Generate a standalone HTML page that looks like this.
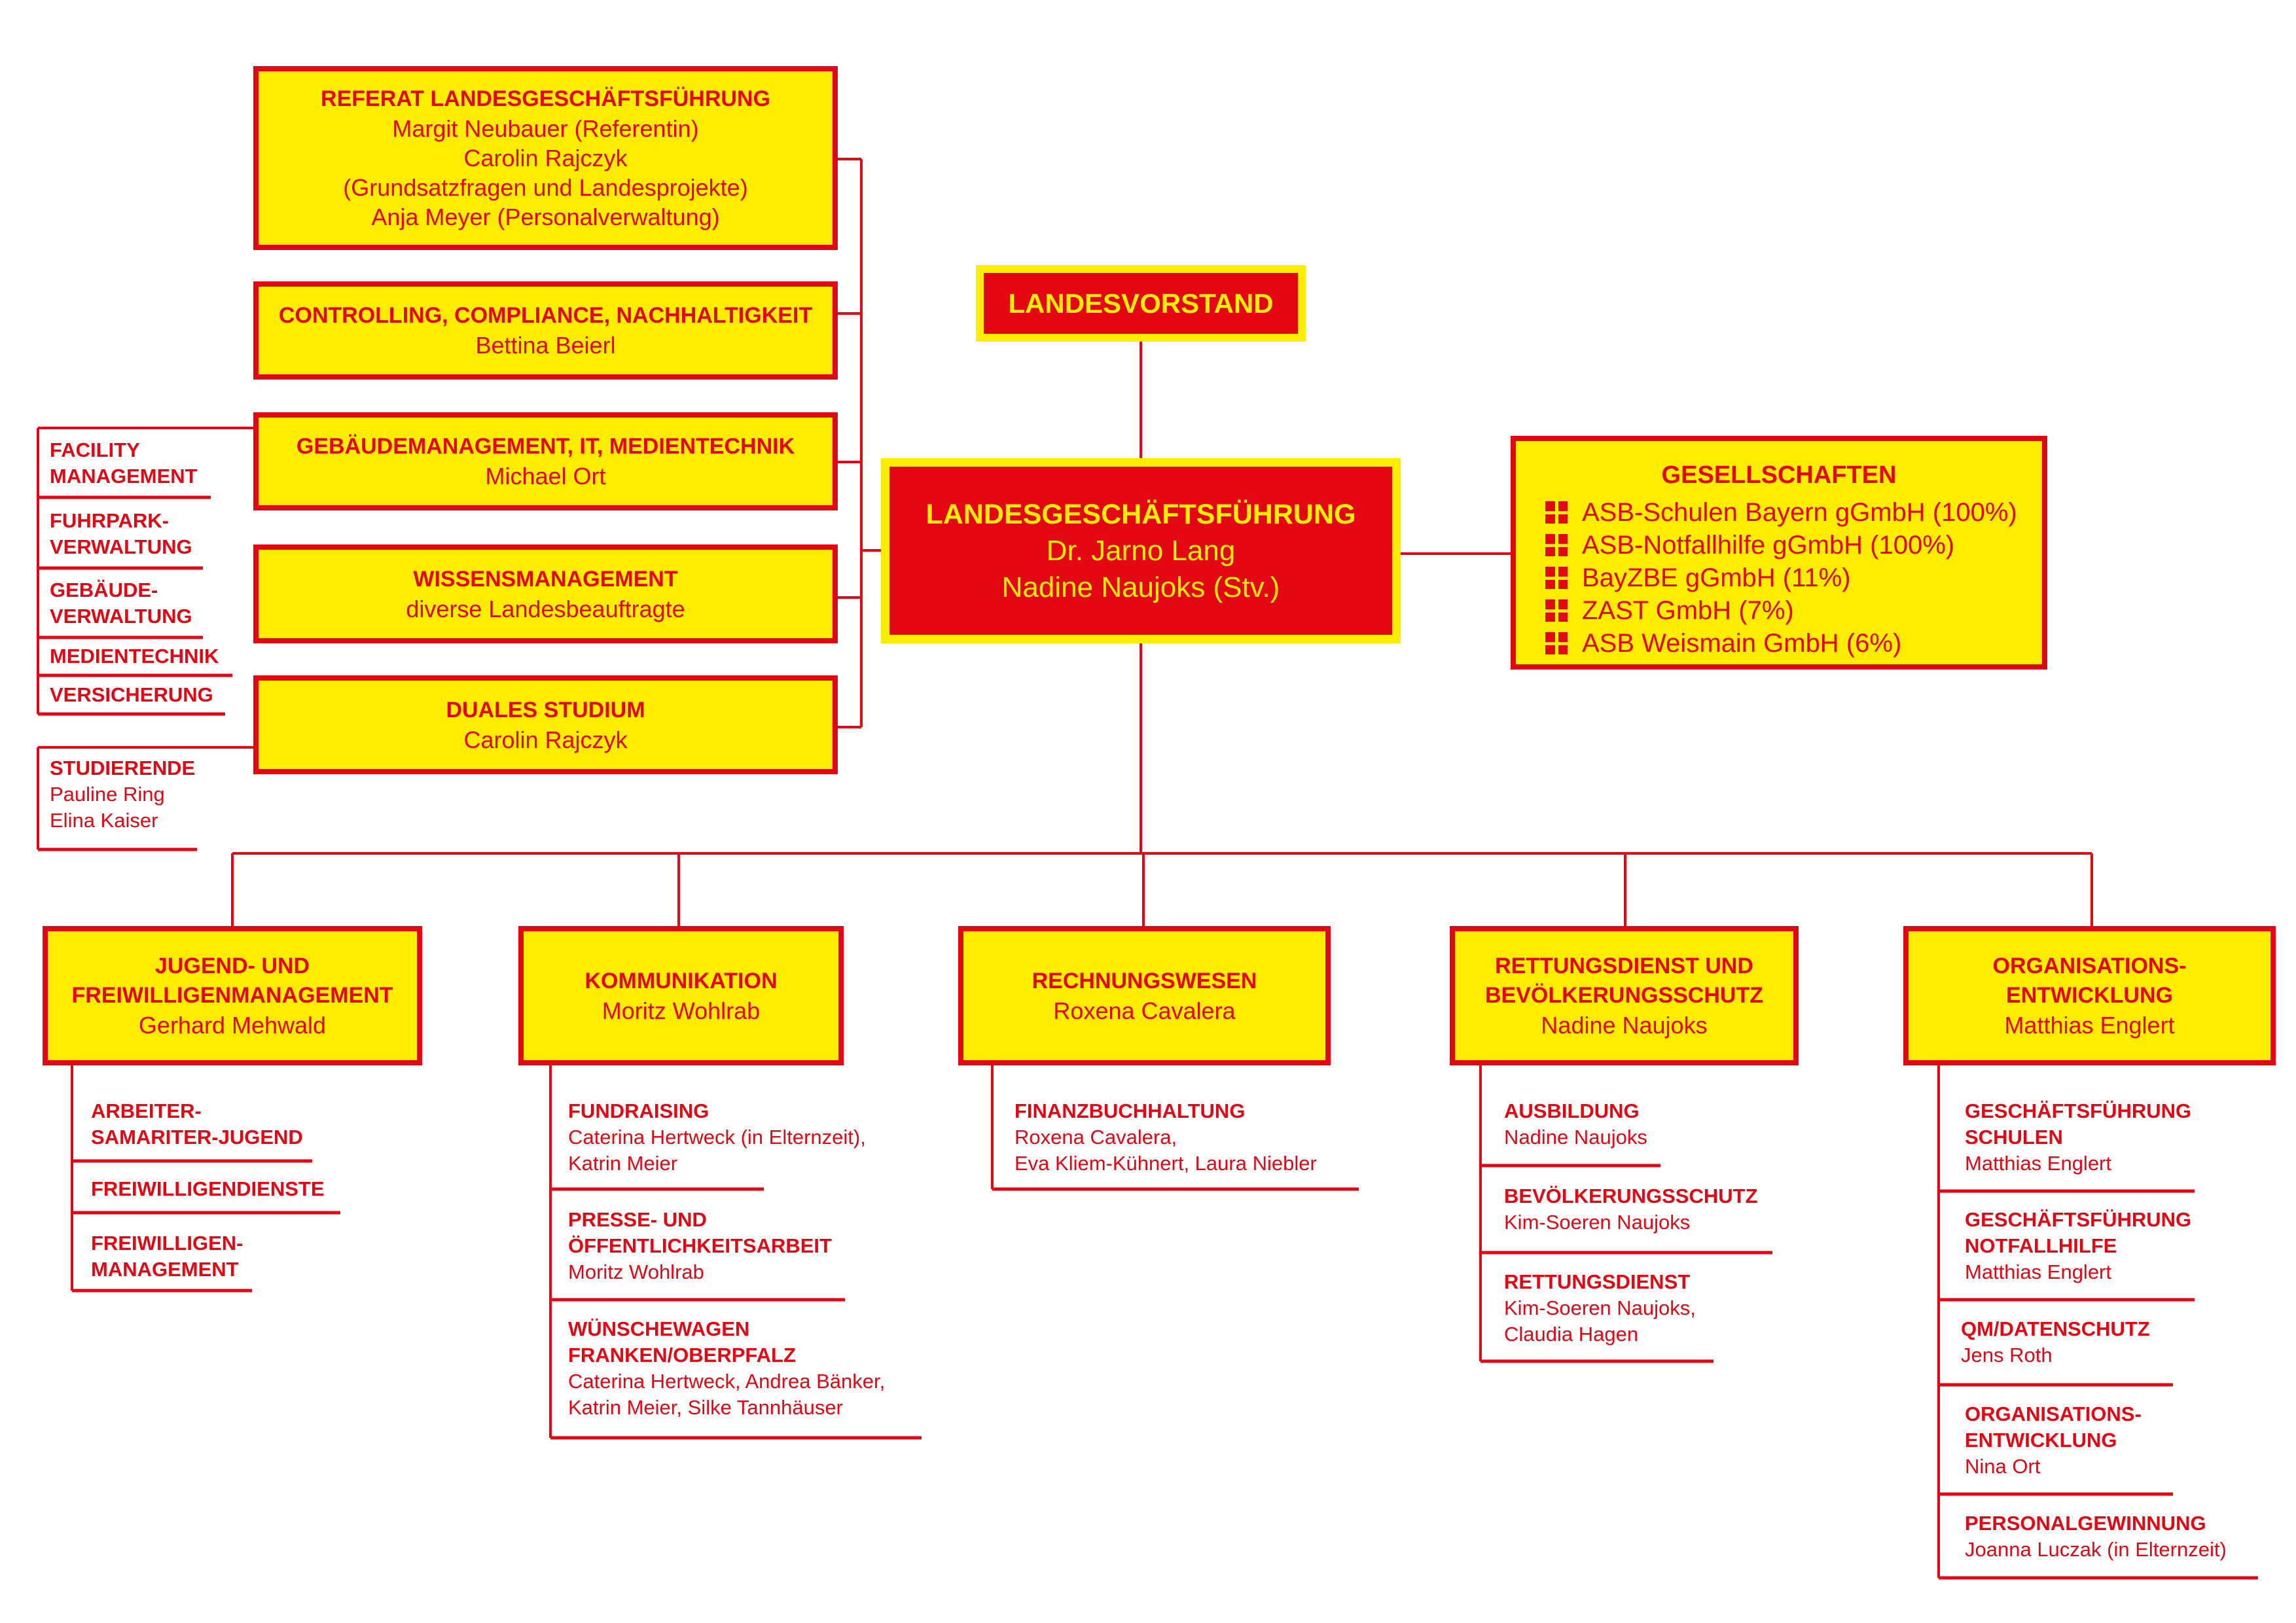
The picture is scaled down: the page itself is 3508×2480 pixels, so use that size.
<!DOCTYPE html>
<html><head><meta charset="utf-8">
<style>
*{margin:0;padding:0;box-sizing:border-box}
body{width:3508px;height:2480px;background:#fff;position:relative;overflow:hidden;font-family:"Liberation Sans",sans-serif;color:#e30613}
.b{position:absolute;border:8px solid #e30613;background:#ffed00;display:flex;flex-direction:column;justify-content:center;align-items:center;text-align:center;font-size:36px;line-height:45px;white-space:nowrap}
.b b{font-size:34px}
.s{position:absolute;font-size:31px;line-height:40px;white-space:nowrap}
.s b{font-size:31px}
svg{position:absolute;left:0;top:0}
.ic{display:inline-block;width:34px;height:34px;vertical-align:-4px;margin-right:22px;background:
linear-gradient(#ffed00,#ffed00) 15px 0/5px 34px no-repeat,
linear-gradient(#ffed00,#ffed00) 0 15px/34px 5px no-repeat,#e30613}
</style></head><body>
<svg width="3508" height="2480" stroke="#e30613" fill="none">
<g stroke-width="4">
<path d="M58 654V1091M58 654H387M1316 243V1111M1280 243H1316M1280 479H1316M1280 706H1316M1280 913H1316M1280 1111H1316M1316 841H1356"/>
<path d="M58 1142H387M58 1142V1298"/>
<path d="M1743 522V700M1743 983V1304M2140 846H2308M355 1304H3196M355 1304V1415M1037 1304V1415M1747 1304V1415M2483 1304V1415M3196 1304V1415"/>
<path d="M110 1628V1972M841 1628V2197M1516 1628V1817M2262 1628V2080M2962 1628V2411"/>
</g>
<g stroke-width="5">
<path d="M58 760H322M58 868H310M58 974H310M58 1032H355M58 1091H344M58 1298H301"/>
<path d="M110 1774H477M110 1853H520M110 1972H385"/>
<path d="M841 1817H1167M841 1986H1291M841 2197H1408"/>
<path d="M1516 1817H2076"/>
<path d="M2262 1781H2537M2262 1914H2708M2262 2080H2618"/>
<path d="M2962 1820H3353M2962 1986H3353M2962 2116H3320M2962 2283H3320M2962 2411H3450"/>
</g>
</svg>

<div class="b" style="left:387px;top:101px;width:893px;height:281px"><b>REFERAT LANDESGESCHÄFTSFÜHRUNG</b>Margit Neubauer (Referentin)<br>Carolin Rajczyk<br>(Grundsatzfragen und Landesprojekte)<br>Anja Meyer (Personalverwaltung)</div>
<div class="b" style="left:387px;top:430px;width:893px;height:150px"><b>CONTROLLING, COMPLIANCE, NACHHALTIGKEIT</b>Bettina Beierl</div>
<div class="b" style="left:387px;top:630px;width:893px;height:150px"><b>GEBÄUDEMANAGEMENT, IT, MEDIENTECHNIK</b>Michael Ort</div>
<div class="b" style="left:387px;top:832px;width:893px;height:151px"><b>WISSENSMANAGEMENT</b>diverse Landesbeauftragte</div>
<div class="b" style="left:387px;top:1032px;width:893px;height:151px"><b>DUALES STUDIUM</b>Carolin Rajczyk</div>

<div class="s" style="left:76px;top:668px"><b>FACILITY<br>MANAGEMENT</b></div>
<div class="s" style="left:76px;top:776px"><b>FUHRPARK-<br>VERWALTUNG</b></div>
<div class="s" style="left:76px;top:882px"><b>GEBÄUDE-<br>VERWALTUNG</b></div>
<div class="s" style="left:76px;top:983px"><b>MEDIENTECHNIK</b></div>
<div class="s" style="left:76px;top:1042px"><b>VERSICHERUNG</b></div>
<div class="s" style="left:76px;top:1154px"><b>STUDIERENDE</b><br>Pauline Ring<br>Elina Kaiser</div>

<div class="b" style="left:1491px;top:405px;width:504px;height:117px;background:#e30613;border:12px solid #ffed00;color:#ffed00"><b style="font-size:42px">LANDESVORSTAND</b></div>
<div class="b" style="left:1346px;top:700px;width:794px;height:283px;background:#e30613;border:13px solid #ffed00;color:#ffed00;font-size:44px;line-height:56px"><b style="font-size:43px">LANDESGESCHÄFTSFÜHRUNG</b>Dr. Jarno Lang<br>Nadine Naujoks (Stv.)</div>

<div class="b" style="left:2308px;top:666px;width:820px;height:357px;align-items:flex-start;justify-content:flex-start;padding:26px 0 0 45px;font-size:40px;line-height:50px;text-align:left">
<b style="font-size:38px;align-self:center;margin-left:-45px;line-height:52px;margin-bottom:6px">GESELLSCHAFTEN</b>
<div><span class="ic"></span>ASB-Schulen Bayern gGmbH (100%)</div>
<div><span class="ic"></span>ASB-Notfallhilfe gGmbH (100%)</div>
<div><span class="ic"></span>BayZBE gGmbH (11%)</div>
<div><span class="ic"></span>ZAST GmbH (7%)</div>
<div><span class="ic"></span>ASB Weismain GmbH (6%)</div>
</div>

<div class="b" style="left:65px;top:1415px;width:580px;height:213px"><b>JUGEND- UND<br>FREIWILLIGENMANAGEMENT</b>Gerhard Mehwald</div>
<div class="b" style="left:792px;top:1415px;width:497px;height:213px"><b>KOMMUNIKATION</b>Moritz Wohlrab</div>
<div class="b" style="left:1464px;top:1415px;width:569px;height:213px"><b>RECHNUNGSWESEN</b>Roxena Cavalera</div>
<div class="b" style="left:2215px;top:1415px;width:533px;height:213px"><b>RETTUNGSDIENST UND<br>BEVÖLKERUNGSSCHUTZ</b>Nadine Naujoks</div>
<div class="b" style="left:2908px;top:1415px;width:569px;height:213px"><b>ORGANISATIONS-<br>ENTWICKLUNG</b>Matthias Englert</div>

<div class="s" style="left:139px;top:1678px"><b>ARBEITER-<br>SAMARITER-JUGEND</b></div>
<div class="s" style="left:139px;top:1797px"><b>FREIWILLIGENDIENSTE</b></div>
<div class="s" style="left:139px;top:1880px"><b>FREIWILLIGEN-<br>MANAGEMENT</b></div>

<div class="s" style="left:868px;top:1678px"><b>FUNDRAISING</b><br>Caterina Hertweck (in Elternzeit),<br>Katrin Meier</div>
<div class="s" style="left:868px;top:1844px"><b>PRESSE- UND<br>ÖFFENTLICHKEITSARBEIT</b><br>Moritz Wohlrab</div>
<div class="s" style="left:868px;top:2011px"><b>WÜNSCHEWAGEN<br>FRANKEN/OBERPFALZ</b><br>Caterina Hertweck, Andrea Bänker,<br>Katrin Meier, Silke Tannhäuser</div>

<div class="s" style="left:1550px;top:1678px"><b>FINANZBUCHHALTUNG</b><br>Roxena Cavalera,<br>Eva Kliem-Kühnert, Laura Niebler</div>

<div class="s" style="left:2298px;top:1678px"><b>AUSBILDUNG</b><br>Nadine Naujoks</div>
<div class="s" style="left:2298px;top:1808px"><b>BEVÖLKERUNGSSCHUTZ</b><br>Kim-Soeren Naujoks</div>
<div class="s" style="left:2298px;top:1939px"><b>RETTUNGSDIENST</b><br>Kim-Soeren Naujoks,<br>Claudia Hagen</div>

<div class="s" style="left:3002px;top:1678px"><b>GESCHÄFTSFÜHRUNG<br>SCHULEN</b><br>Matthias Englert</div>
<div class="s" style="left:3002px;top:1844px"><b>GESCHÄFTSFÜHRUNG<br>NOTFALLHILFE</b><br>Matthias Englert</div>
<div class="s" style="left:2996px;top:2011px"><b>QM/DATENSCHUTZ</b><br>Jens Roth</div>
<div class="s" style="left:3002px;top:2141px"><b>ORGANISATIONS-<br>ENTWICKLUNG</b><br>Nina Ort</div>
<div class="s" style="left:3002px;top:2308px"><b>PERSONALGEWINNUNG</b><br>Joanna Luczak (in Elternzeit)</div>
</body></html>
